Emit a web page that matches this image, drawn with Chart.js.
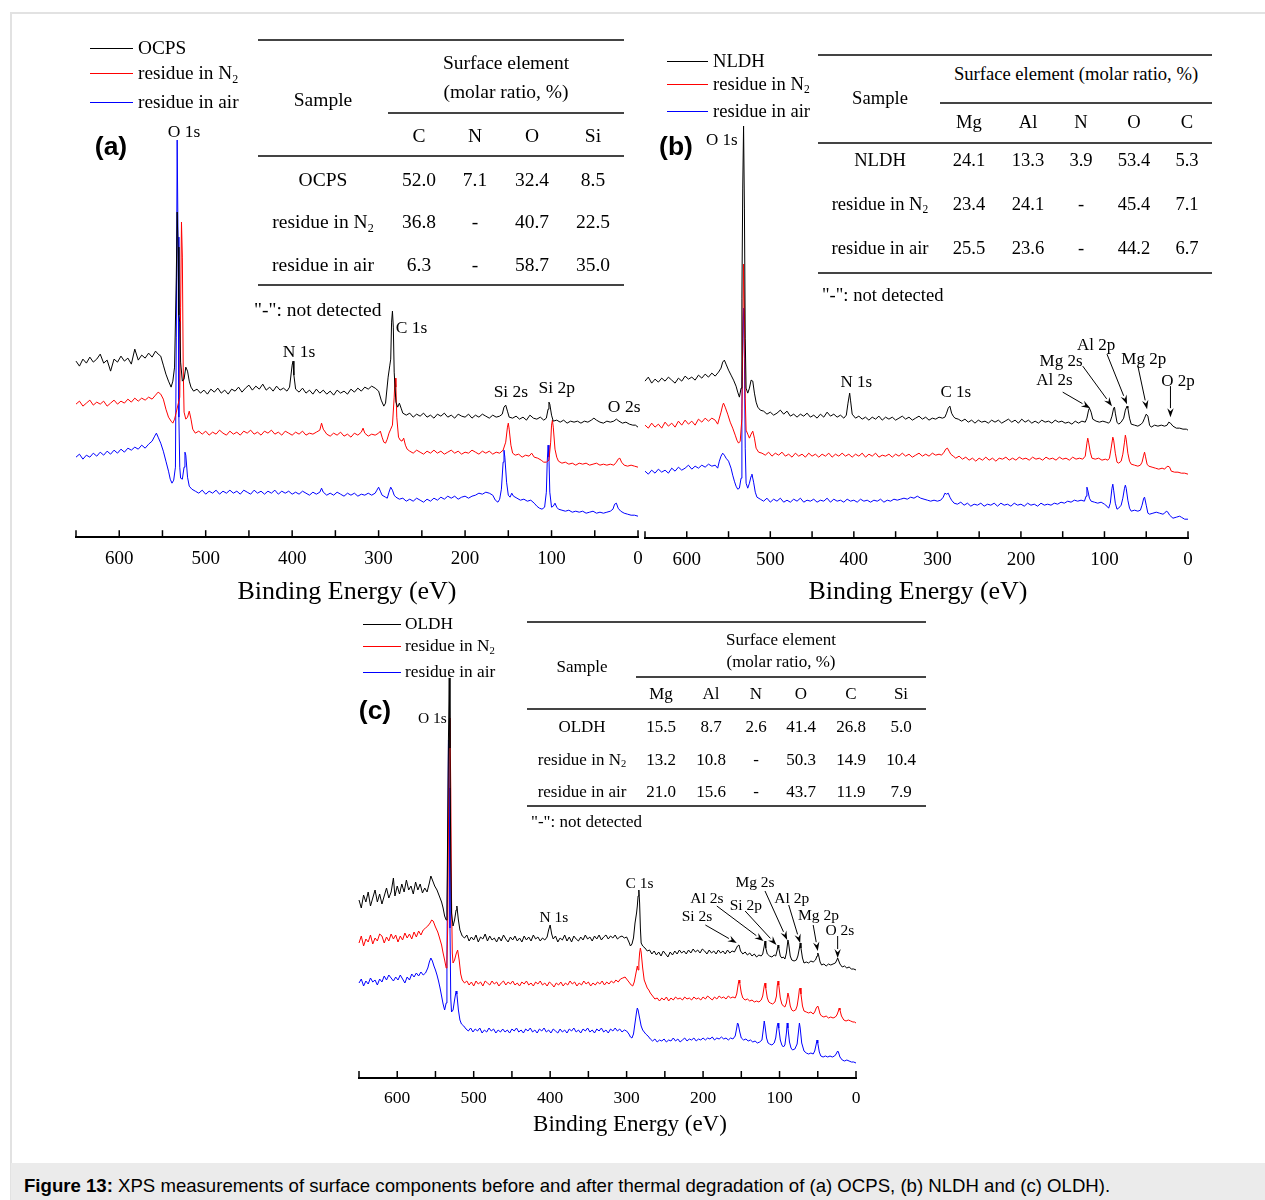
<!DOCTYPE html>
<html><head><meta charset="utf-8">
<script src="https://cdn.jsdelivr.net/npm/chart.js@4.4.1/dist/chart.umd.min.js"></script>
<style>
html,body{margin:0;padding:0;background:#fff;}
body{width:1265px;height:1200px;position:relative;overflow:hidden;font-family:"Liberation Serif","Times New Roman",serif;color:#000;}
.abs{position:absolute;white-space:nowrap;line-height:1;}
.rule{position:absolute;background:#444;height:1.5px;}
.leg{position:absolute;height:1px;}
canvas{position:absolute;}
sub{font-size:0.62em;vertical-align:-0.28em;line-height:0;}
</style></head><body>
<div style="position:absolute;left:10px;top:12px;width:1265px;height:1200px;border-left:2px solid #e2e2e2;border-top:2px solid #e2e2e2;"></div>
<div style="position:absolute;left:11px;top:1163px;width:1265px;height:40px;background:#ebebeb;"></div>
<div class="abs" style="left:24px;top:1177px;font-family:'Liberation Sans',Arial,sans-serif;font-size:18.6px;"><b>Figure 13:</b> XPS measurements of surface components before and after thermal degradation of (a) OCPS, (b) NLDH and (c) OLDH).</div>
<canvas id="ca" width="602" height="480" style="left:56px;top:100px;"></canvas>
<canvas id="cb" width="583" height="471" style="left:625px;top:110px;"></canvas>
<canvas id="cc" width="537" height="469" style="left:339px;top:650px;"></canvas>
<script>
// ---------- tick / axis values ----------
const eMin = 0, eMax = 650, eStep = 50;
const seriesNames = ['residue in N<sub>2</sub>', 'residue in air'];
const sampleA = 'OCPS', sampleB = 'NLDH', sampleC = 'OLDH';
const axisTitle = 'Binding Energy (eV)';

// ---------- panel (a) spectra: [binding energy eV, intensity a.u.] ----------
const aOCPS = [[650,176],[646,171],[642,178],[638,174],[634,180],[630,175],[626,178],[622,183],[618,174],[614,177],[610,166],[606,178],[602,175],[598,181],[594,176],[590,179],[586,173],[582,188],[578,177],[574,182],[570,179],[566,184],[562,180],[558,186],[555,183],[552,181],[549,172],[546,163],[543,156],[540,150],[538,156],[536,170],[534,260],[533,325],[532,290],[531,222],[530,215],[529,175],[527,156],[525,158],[523,170],[521,166],[519,156],[517,150],[514,146],[510,148],[506,144],[502,147],[498,143],[494,148],[490,145],[486,149],[482,144],[478,147],[474,143],[470,148],[466,146],[462,150],[458,145],[454,149],[450,152],[446,147],[442,151],[438,148],[434,153],[430,147],[426,150],[422,146],[418,151],[414,147],[410,149],[406,146],[403,150],[400,172],[399,176],[398,162],[396,148],[392,145],[388,149],[384,144],[380,147],[376,143],[372,148],[368,144],[364,147],[360,143],[356,146],[352,142],[348,147],[344,144],[340,146],[336,143],[332,148],[328,145],[324,149],[320,146],[316,150],[312,148],[308,151],[304,149],[300,146],[297,137],[294,131],[292,134],[289,160],[287,172],[286,178],[285,215],[284,226],[283,210],[282,165],[280,135],[278,130],[276,134],[274,129],[272,124],[268,122],[264,124],[260,120],[256,123],[252,121],[248,124],[244,120],[240,122],[236,119],[232,123],[228,121],[224,124],[220,120],[216,122],[212,119],[208,123],[204,121],[200,120],[196,123],[192,119],[188,122],[184,120],[180,123],[176,121],[172,119],[168,122],[164,120],[160,121],[157,123],[155,130],[153,132],[151,126],[149,120],[145,119],[141,121],[137,118],[133,120],[129,117],[125,122],[121,119],[117,118],[113,120],[109,117],[106,119],[104,128],[103,135],[102,133],[100,122],[98,116],[94,117],[90,115],[86,117],[82,114],[78,116],[74,115],[70,116],[66,114],[62,116],[58,115],[54,117],[51,119],[48,117],[44,115],[40,114],[36,116],[32,115],[28,116],[25,118],[22,116],[18,114],[14,115],[10,113],[6,112],[3,112],[0,110]];
const aN2 = [[650,133],[646,136],[642,131],[638,134],[634,137],[630,132],[626,135],[622,133],[618,136],[614,131],[610,134],[606,137],[602,133],[598,136],[594,134],[590,138],[586,135],[582,139],[578,136],[574,139],[570,137],[566,140],[562,138],[558,142],[555,145],[552,143],[549,138],[546,128],[543,120],[540,116],[538,114],[536,118],[534,125],[530,140],[529,230],[528,315],[527,280],[526,170],[525,125],[523,118],[521,120],[519,126],[517,118],[515,108],[512,104],[508,106],[504,103],[500,106],[496,102],[492,105],[488,103],[484,107],[480,104],[476,102],[472,106],[468,103],[464,105],[460,102],[456,106],[452,104],[448,107],[444,103],[440,105],[436,102],[432,106],[428,104],[424,107],[420,103],[416,105],[412,102],[408,106],[404,104],[400,102],[396,105],[392,103],[388,106],[384,102],[380,104],[376,103],[372,105],[368,107],[366,114],[364,108],[360,103],[356,101],[352,104],[348,102],[344,105],[340,101],[336,103],[332,100],[328,104],[324,102],[320,105],[318,109],[316,104],[312,101],[308,103],[304,102],[300,104],[298,106],[296,100],[294,95],[292,94],[290,98],[288,104],[286,108],[284,112],[282,140],[281,159],[280,150],[279,120],[277,100],[275,97],[273,96],[271,99],[269,92],[267,88],[264,86],[260,84],[256,87],[252,85],[248,83],[244,86],[240,84],[236,87],[232,84],[228,86],[224,83],[220,85],[216,87],[212,84],[208,86],[204,83],[200,85],[196,84],[192,87],[188,85],[184,83],[180,86],[176,84],[172,86],[168,83],[164,85],[160,84],[156,87],[153,95],[151,110],[150,114],[149,108],[147,92],[145,84],[142,82],[138,83],[134,80],[130,82],[126,81],[123,84],[120,80],[116,79],[112,77],[109,75],[106,75],[103,77],[101,95],[100,112],[99,117],[98,110],[96,88],[94,80],[92,76],[88,74],[84,75],[80,73],[76,74],[72,72],[68,74],[64,73],[60,74],[56,72],[52,73],[48,74],[44,72],[40,73],[36,72],[32,73],[28,72],[25,75],[23,78],[21,79],[19,75],[16,72],[12,71],[8,72],[4,71],[0,70]];
const aAir = [[650,80],[646,83],[642,78],[638,82],[634,80],[630,84],[626,81],[622,85],[618,82],[614,86],[610,83],[606,87],[602,84],[598,88],[594,85],[590,89],[586,87],[582,90],[578,88],[574,92],[570,89],[566,93],[562,96],[559,101],[557,104],[555,100],[552,94],[549,86],[546,76],[543,66],[541,58],[539,54],[537,57],[535,70],[534,200],[533,397],[532,300],[531,120],[530,70],[529,59],[527,58],[525,70],[524,85],[523,82],[521,60],[519,51],[516,48],[512,46],[508,44],[504,47],[500,43],[496,46],[492,44],[488,47],[484,43],[480,46],[476,44],[472,47],[468,44],[464,46],[460,43],[456,47],[452,45],[448,43],[444,47],[440,44],[436,46],[432,43],[428,46],[424,44],[420,47],[416,43],[412,46],[408,44],[404,46],[400,43],[396,45],[392,43],[388,46],[384,44],[380,42],[376,45],[372,43],[368,45],[366,49],[364,45],[360,42],[356,44],[352,42],[348,45],[344,43],[340,41],[336,44],[332,42],[328,44],[324,41],[320,43],[316,42],[312,44],[308,42],[304,44],[302,47],[300,50],[298,46],[296,42],[292,40],[290,39],[288,45],[286,50],[284,47],[282,42],[280,40],[276,38],[272,39],[268,36],[264,38],[260,36],[256,39],[252,37],[248,35],[244,38],[240,36],[236,39],[232,37],[228,40],[224,38],[220,41],[216,39],[212,41],[208,38],[204,40],[200,41],[196,39],[192,41],[188,42],[184,44],[180,43],[176,45],[172,44],[168,42],[165,37],[162,35],[160,38],[158,48],[156,75],[155,87],[154,80],[152,55],[150,42],[148,40],[146,44],[144,41],[140,39],[136,37],[132,38],[128,36],[124,37],[120,34],[117,31],[114,29],[111,28],[108,30],[106,45],[105,75],[104,92],[103,80],[102,45],[100,30],[98,31],[96,34],[94,30],[92,28],[88,27],[84,26],[80,27],[76,25],[72,26],[68,25],[64,26],[60,24],[56,25],[52,26],[48,24],[44,25],[40,24],[36,25],[32,26],[29,28],[27,33],[25,34],[23,29],[20,26],[16,24],[12,23],[8,22],[4,22],[0,21]];

// ---------- panel (b) spectra ----------
const bNLDH = [[650,157],[646,161],[642,155],[638,159],[634,156],[630,160],[626,157],[622,161],[618,158],[614,155],[610,160],[606,157],[602,162],[598,159],[594,161],[590,158],[586,163],[582,160],[578,164],[574,161],[570,165],[566,162],[562,166],[559,170],[557,176],[555,178],[553,174],[550,168],[547,163],[544,158],[541,152],[539,146],[537,141],[535,150],[534,240],[533,350],[532,412],[531,330],[530,200],[529,150],[527,145],[525,150],[523,158],[521,157],[519,145],[517,136],[515,131],[512,128],[508,127],[504,124],[500,126],[496,123],[492,125],[488,128],[484,124],[480,127],[476,122],[472,124],[468,121],[464,124],[460,122],[456,125],[452,121],[448,123],[444,120],[440,124],[436,121],[432,126],[428,122],[424,124],[420,121],[416,123],[412,120],[409,123],[407,135],[405,145],[404,138],[402,124],[398,120],[394,122],[390,119],[386,121],[382,118],[378,121],[374,119],[370,122],[366,118],[362,121],[358,119],[354,121],[350,118],[346,120],[342,122],[338,119],[334,121],[330,118],[326,120],[322,122],[318,119],[314,121],[310,118],[306,120],[302,119],[298,121],[294,120],[291,121],[289,125],[287,130],[285,132],[283,125],[281,122],[279,120],[275,119],[271,117],[267,119],[263,116],[259,118],[255,115],[251,118],[247,116],[243,117],[239,115],[235,118],[231,116],[227,118],[223,115],[219,117],[215,119],[211,116],[207,118],[203,115],[199,119],[195,116],[191,118],[187,115],[183,117],[179,115],[175,118],[171,116],[167,117],[163,115],[159,118],[155,116],[151,117],[147,115],[143,116],[139,114],[135,117],[131,115],[127,117],[123,116],[121,120],[119,128],[118,130],[116,126],[114,119],[110,117],[106,116],[102,117],[98,116],[95,115],[93,117],[91,122],[89,130],[88,131],[87,125],[85,116],[83,114],[80,116],[77,120],[75,128],[73,132],[72,130],[70,120],[68,114],[64,113],[60,112],[56,114],[54,116],[52,120],[50,124],[48,122],[46,113],[44,111],[40,113],[36,112],[32,113],[28,112],[25,113],[23,116],[21,115],[18,112],[14,110],[10,110],[6,109],[2,109],[0,108]];
const bN2 = [[650,113],[646,110],[642,115],[638,111],[634,114],[630,110],[626,116],[622,112],[618,115],[614,111],[610,117],[606,113],[602,118],[598,114],[594,117],[590,113],[586,119],[582,116],[578,120],[574,117],[570,120],[566,118],[563,114],[561,120],[559,126],[557,133],[556,135],[554,131],[551,124],[548,116],[545,110],[542,103],[540,98],[538,95],[536,97],[534,120],[533,200],[532,274],[531,230],[530,140],[529,108],[527,104],[525,100],[523,104],[521,107],[519,100],[517,90],[514,86],[510,85],[506,83],[502,86],[498,82],[494,85],[490,83],[486,86],[482,82],[478,84],[474,81],[470,85],[466,82],[462,84],[458,81],[454,85],[450,82],[446,84],[442,81],[438,84],[434,82],[430,85],[426,81],[422,84],[418,82],[414,85],[410,82],[406,84],[402,81],[398,84],[394,82],[390,85],[386,81],[382,84],[378,82],[374,85],[370,81],[366,83],[362,82],[358,84],[354,81],[350,84],[346,82],[342,85],[338,82],[334,84],[330,81],[326,83],[322,85],[318,82],[314,84],[310,82],[306,85],[302,83],[298,84],[295,83],[292,86],[290,89],[288,90],[286,87],[284,84],[281,82],[278,80],[274,82],[270,79],[266,81],[262,78],[258,80],[254,77],[250,80],[246,78],[242,81],[238,78],[234,80],[230,77],[226,80],[222,79],[218,81],[214,78],[210,80],[206,78],[202,81],[198,79],[194,80],[190,78],[186,81],[182,79],[178,80],[174,78],[170,81],[166,79],[162,80],[158,78],[154,81],[150,79],[146,80],[142,78],[138,81],[134,79],[130,80],[126,79],[123,82],[121,95],[120,100],[119,96],[117,86],[115,80],[111,79],[107,80],[103,78],[99,79],[96,78],[94,80],[92,90],[90,101],[89,98],[87,85],[85,76],[83,75],[80,77],[78,84],[76,96],[75,103],[74,99],[72,85],[70,77],[68,74],[64,73],[60,72],[57,73],[55,76],[53,83],[52,86],[51,82],[49,74],[47,72],[43,71],[39,70],[35,69],[31,70],[28,69],[26,71],[24,72],[22,71],[20,67],[16,66],[12,66],[8,65],[4,65],[0,64]];
const bAir = [[650,67],[646,64],[642,68],[638,65],[634,69],[630,66],[626,68],[622,65],[618,70],[614,67],[610,71],[606,68],[602,70],[598,73],[594,69],[590,72],[586,70],[582,73],[578,71],[574,74],[570,72],[566,73],[563,70],[561,77],[559,82],[557,85],[555,83],[553,80],[550,77],[547,70],[545,63],[543,57],[541,52],[539,49],[537,50],[535,60],[534,130],[533,200],[532,230],[531,180],[530,90],[529,55],[527,50],[525,55],[523,62],[522,64],[520,56],[518,46],[516,41],[512,39],[508,37],[504,40],[500,36],[496,39],[492,37],[488,40],[484,36],[480,38],[476,36],[472,39],[468,37],[464,40],[460,36],[456,38],[452,37],[448,39],[444,36],[440,38],[436,37],[432,40],[428,36],[424,39],[420,37],[416,38],[412,36],[408,39],[404,37],[400,38],[396,36],[392,39],[388,37],[384,38],[380,36],[376,38],[372,37],[368,39],[364,36],[360,38],[356,37],[352,39],[348,38],[344,39],[340,40],[336,39],[332,41],[328,40],[324,42],[320,40],[316,39],[312,38],[308,37],[304,38],[300,37],[296,38],[293,41],[291,45],[289,44],[287,45],[285,41],[283,38],[280,35],[276,34],[272,36],[268,33],[264,35],[260,32],[256,34],[252,33],[248,35],[244,32],[240,34],[236,33],[232,35],[228,32],[224,35],[220,33],[216,34],[212,32],[208,35],[204,33],[200,34],[196,32],[192,35],[188,33],[184,34],[180,32],[176,35],[172,33],[168,34],[164,33],[160,35],[156,34],[152,36],[148,35],[144,37],[140,36],[136,38],[132,37],[128,38],[124,37],[122,42],[121,51],[120,48],[118,40],[116,37],[112,36],[108,35],[104,36],[100,34],[97,32],[95,30],[93,35],[91,50],[90,54],[89,48],[87,35],[85,29],[83,30],[80,33],[78,40],[76,50],[75,53],[74,50],[72,38],[70,30],[68,27],[64,28],[60,27],[57,28],[55,33],[53,40],[52,41],[50,33],[48,25],[46,24],[42,25],[38,26],[34,25],[30,24],[28,25],[26,27],[24,26],[22,23],[18,20],[14,21],[10,22],[8,21],[4,19],[0,19]];

// ---------- panel (c) spectra ----------
const cOLDH = [[650,178],[647,170],[644,183],[641,176],[638,186],[635,172],[632,180],[629,188],[626,176],[623,184],[620,174],[617,182],[614,190],[611,180],[608,186],[605,200],[603,182],[600,192],[597,184],[594,194],[591,186],[588,198],[585,188],[582,192],[579,184],[576,196],[573,188],[570,194],[567,185],[564,190],[561,186],[558,195],[556,202],[554,198],[551,192],[548,188],[545,182],[542,176],[540,170],[538,162],[536,158],[535,170],[534,250],[533,340],[532,400],[531,330],[530,220],[529,165],[527,152],[525,158],[523,168],[522,172],[520,158],[518,148],[515,142],[512,140],[509,143],[506,137],[503,141],[500,138],[497,143],[494,136],[491,141],[488,139],[485,144],[482,137],[479,142],[476,138],[473,140],[470,136],[467,141],[464,137],[461,143],[458,139],[455,136],[452,141],[449,138],[446,142],[443,137],[440,140],[437,136],[434,142],[431,138],[428,141],[425,137],[422,143],[419,139],[416,141],[413,137],[410,140],[407,138],[404,141],[402,148],[400,153],[398,144],[396,139],[393,142],[390,136],[387,140],[384,138],[381,143],[378,137],[375,141],[372,136],[369,142],[366,139],[363,137],[360,141],[357,138],[354,143],[351,139],[348,141],[345,137],[342,142],[339,139],[336,143],[333,138],[330,141],[327,143],[324,139],[321,142],[318,140],[315,143],[312,139],[309,141],[306,142],[303,140],[300,141],[297,136],[295,132],[293,134],[291,140],[289,155],[287,165],[286,172],[285,182],[284,188],[283,175],[282,150],[281,135],[279,132],[276,130],[273,127],[270,128],[267,124],[264,127],[261,123],[258,126],[255,122],[252,127],[249,124],[246,121],[243,126],[240,123],[237,127],[234,124],[231,128],[228,125],[225,127],[222,124],[219,128],[216,125],[213,129],[210,126],[207,128],[204,125],[201,129],[198,127],[195,124],[192,128],[189,125],[186,127],[183,124],[180,128],[177,125],[174,127],[171,124],[168,128],[165,125],[162,127],[159,126],[157,129],[155,132],[153,133],[151,127],[148,124],[145,126],[142,123],[139,125],[136,122],[133,124],[130,121],[127,123],[124,122],[122,124],[120,132],[119,137],[118,130],[116,124],[113,122],[110,121],[107,123],[105,122],[103,128],[102,133],[101,130],[99,122],[97,120],[95,121],[93,119],[91,125],[89,138],[88,134],[86,122],[84,118],[81,117],[78,118],[76,122],[74,130],[73,135],[72,130],[70,120],[68,115],[65,116],[62,115],[59,117],[56,116],[53,118],[51,122],[50,125],[49,123],[47,116],[45,113],[42,114],[39,112],[36,114],[33,113],[30,114],[27,115],[25,118],[24,120],[23,118],[21,114],[18,111],[15,112],[12,110],[9,111],[6,109],[3,109],[0,108]];
const cN2 = [[650,135],[647,142],[644,132],[641,139],[638,136],[635,143],[632,134],[629,140],[626,137],[623,144],[620,142],[617,135],[614,141],[611,137],[608,144],[605,139],[602,143],[599,136],[596,142],[593,138],[590,145],[587,140],[584,144],[581,139],[578,146],[575,141],[572,147],[569,143],[566,148],[563,150],[560,152],[557,155],[555,158],[553,157],[550,151],[547,146],[545,141],[542,133],[540,125],[538,118],[536,110],[535,115],[534,150],[533,250],[532,330],[531,360],[530,290],[529,180],[528,125],[527,115],[525,118],[523,124],[521,128],[519,118],[517,104],[515,98],[512,95],[509,97],[506,93],[503,96],[500,92],[497,97],[494,94],[491,96],[488,92],[485,97],[482,95],[479,93],[476,97],[473,94],[470,96],[467,92],[464,95],[461,97],[458,93],[455,96],[452,94],[449,97],[446,93],[443,95],[440,92],[437,96],[434,94],[431,97],[428,93],[425,95],[422,92],[419,96],[416,94],[413,97],[410,93],[407,95],[404,92],[401,96],[398,94],[395,91],[392,95],[389,93],[386,96],[383,92],[380,95],[377,93],[374,97],[371,94],[368,96],[365,92],[362,95],[359,93],[356,97],[353,94],[350,96],[347,92],[344,95],[341,93],[338,96],[335,94],[332,97],[329,93],[326,96],[323,94],[320,97],[317,95],[314,98],[311,96],[308,99],[305,100],[302,101],[300,99],[297,96],[294,93],[292,92],[290,96],[288,104],[286,112],[285,108],[284,115],[283,125],[282,130],[281,126],[279,110],[277,98],[275,94],[273,90],[271,88],[269,85],[266,82],[263,79],[260,80],[257,77],[254,80],[251,78],[248,81],[245,77],[242,80],[239,78],[236,81],[233,79],[230,80],[227,78],[224,81],[221,79],[218,80],[215,78],[212,81],[209,79],[206,80],[203,78],[200,81],[197,79],[194,82],[191,80],[188,78],[185,81],[182,79],[179,82],[176,80],[173,81],[170,79],[167,82],[164,80],[161,81],[158,80],[156,84],[154,94],[153,98],[152,95],[150,85],[148,80],[145,78],[142,79],[139,77],[136,78],[133,76],[130,77],[127,76],[124,78],[122,82],[120,92],[119,95],[118,90],[116,80],[114,76],[112,75],[109,74],[106,76],[104,82],[103,92],[102,97],[101,93],[99,80],[97,74],[95,72],[93,71],[91,75],[89,85],[88,82],[86,72],[84,68],[82,67],[79,68],[77,72],[75,82],[74,89],[73,90],[72,84],[70,72],[68,67],[65,66],[62,65],[59,66],[56,64],[54,66],[52,70],[50,72],[49,70],[47,64],[45,62],[42,61],[39,62],[36,60],[33,61],[30,60],[27,61],[25,63],[23,67],[22,70],[21,68],[19,62],[16,58],[13,57],[10,58],[7,57],[4,56],[2,56],[0,55]];
const cAir = [[650,95],[647,99],[644,92],[641,97],[638,94],[635,100],[632,96],[629,98],[626,93],[623,99],[620,96],[617,102],[614,98],[611,103],[608,100],[605,97],[602,101],[599,98],[596,103],[593,99],[590,95],[587,101],[584,98],[581,104],[578,101],[575,105],[572,102],[569,106],[566,103],[563,105],[560,110],[558,116],[556,120],[554,117],[552,112],[550,108],[548,103],[546,97],[544,90],[542,82],[540,74],[538,68],[536,75],[535,120],[534,230],[533,338],[532,290],[531,150],[530,80],[529,66],[527,68],[525,78],[523,87],[522,84],[520,68],[518,58],[516,54],[513,52],[510,49],[507,47],[504,50],[501,46],[498,49],[495,47],[492,50],[489,45],[486,48],[483,46],[480,50],[477,47],[474,49],[471,45],[468,48],[465,46],[462,49],[459,46],[456,48],[453,45],[450,49],[447,47],[444,50],[441,46],[438,48],[435,45],[432,49],[429,47],[426,50],[423,46],[420,48],[417,45],[414,49],[411,47],[408,50],[405,46],[402,48],[399,45],[396,49],[393,47],[390,45],[387,49],[384,46],[381,48],[378,45],[375,49],[372,47],[369,50],[366,46],[363,48],[360,45],[357,49],[354,47],[351,50],[348,46],[345,48],[342,45],[339,49],[336,47],[333,50],[330,46],[327,48],[324,45],[321,49],[318,47],[315,50],[312,47],[309,49],[306,46],[303,48],[300,47],[297,44],[295,41],[293,40],[291,44],[289,55],[287,66],[286,70],[285,68],[283,60],[281,52],[279,48],[277,46],[275,44],[272,42],[269,39],[266,37],[263,39],[260,36],[257,38],[254,37],[251,39],[248,36],[245,38],[242,37],[239,40],[236,37],[233,39],[230,36],[227,38],[224,40],[221,37],[218,39],[215,38],[212,40],[209,37],[206,39],[203,38],[200,40],[197,38],[194,40],[191,39],[188,41],[185,38],[182,40],[179,39],[176,41],[173,39],[170,40],[167,38],[164,40],[161,39],[158,42],[156,50],[155,55],[154,54],[152,46],[150,40],[147,38],[144,39],[141,37],[138,38],[135,36],[132,37],[129,35],[126,36],[123,38],[121,50],[120,57],[119,52],[117,40],[115,35],[113,34],[110,33],[107,35],[105,40],[103,52],[102,55],[101,50],[99,38],[97,33],[95,31],[93,33],[91,45],[90,55],[89,50],[87,36],[85,30],[83,28],[80,29],[77,34],[75,48],[74,55],[73,50],[71,35],[68,27],[65,25],[62,24],[59,25],[56,24],[54,27],[52,34],[51,38],[50,35],[48,26],[46,22],[43,21],[40,22],[37,21],[34,22],[31,21],[28,22],[26,24],[24,27],[23,26],[21,21],[18,18],[15,17],[12,18],[9,17],[6,16],[3,16],[0,15]];

// ---------- tables ----------
const tAcols = ['C','N','O','Si'];
const tArows = ['OCPS','residue in N<sub>2</sub>','residue in air'];
const tAvals = [['52.0','7.1','32.4','8.5'],['36.8','-','40.7','22.5'],['6.3','-','58.7','35.0']];
const tBcols = ['Mg','Al','N','O','C'];
const tBrows = ['NLDH','residue in N<sub>2</sub>','residue in air'];
const tBvals = [['24.1','13.3','3.9','53.4','5.3'],['23.4','24.1','-','45.4','7.1'],['25.5','23.6','-','44.2','6.7']];
const tCcols = ['Mg','Al','N','O','C','Si'];
const tCrows = ['OLDH','residue in N<sub>2</sub>','residue in air'];
const tCvals = [['15.5','8.7','2.6','41.4','26.8','5.0'],['13.2','10.8','-','50.3','14.9','10.4'],['21.0','15.6','-','43.7','11.9','7.9']];

// ---------- peak annotations [text, eV, intensity] and arrows [eV1,i1,eV2,i2] ----------
const aPeaks = [['O 1s',525,405],['N 1s',392,185],['C 1s',262,209],['Si 2s',147,145],['Si 2p',94,149],['O 2s',16,130]];
const bPeaks = [['O 1s',558,399],['N 1s',397,157],['C 1s',278,147],['Al 2s',160,159],['Mg 2s',152,178],['Al 2p',110,194],['Mg 2p',53,180],['O 2p',12,158]];
const bArrows = [[150,146,117,130],[126,172,91,132],[97,184,73,134],[60,172,49,129],[21,152,21,121]];
const cPeaks = [['O 1s',554,360],['N 1s',395,161],['C 1s',283,195],['Si 2s',208,162],['Al 2s',195,180],['Si 2p',144,173],['Mg 2s',132,196],['Al 2p',84,180],['Mg 2p',49,163],['O 2s',21,148]];
const cArrows = [[197,153,156,135],[182,172,121,137],[145,167,104,133],[119,187,90,138],[88,173,73,135],[56,153,50,127],[24,142,24,120]];

// ---------- helpers ----------
function put(html, x, y, size, align, extra){
  const d = document.createElement('div');
  d.className = 'abs';
  d.innerHTML = html;
  d.style.left = x + 'px'; d.style.top = y + 'px';
  d.style.fontSize = size + 'px';
  d.style.transform = align === 'left' ? 'translate(0,-50%)' : 'translate(-50%,-50%)';
  if (extra) Object.assign(d.style, extra);
  document.body.appendChild(d);
  return d;
}
function rule(x1, x2, y){
  const d = document.createElement('div');
  d.className = 'rule';
  d.style.left = x1 + 'px'; d.style.top = (y - 0.75) + 'px'; d.style.width = (x2 - x1) + 'px';
  document.body.appendChild(d);
}
function legend(x1, x2, xt, ys, size, names){
  const cols = ['#000', '#ff0000', '#0000ff'];
  names.forEach((n, i) => {
    const l = document.createElement('div');
    l.className = 'leg';
    l.style.left = x1 + 'px'; l.style.top = ys[i] + 'px'; l.style.width = (x2 - x1) + 'px';
    l.style.background = cols[i];
    document.body.appendChild(l);
    put(n, xt, ys[i], size, 'left');
  });
}
function table(cfg){
  rule(cfg.x1, cfg.x2, cfg.r[0]); rule(cfg.xm, cfg.x2, cfg.r[1]); rule(cfg.x1, cfg.x2, cfg.r[2]); rule(cfg.x1, cfg.x2, cfg.r[3]);
  put('Sample', cfg.sx, cfg.sy, cfg.size);
  cfg.head.forEach(h => put(h[0], h[1], h[2], cfg.size));
  cfg.cols.forEach((c, j) => put(c, cfg.cx[j], cfg.hy, cfg.size));
  cfg.rows.forEach((r, i) => {
    put(r, cfg.sx, cfg.ry[i], cfg.size);
    cfg.vals[i].forEach((v, j) => put(v, cfg.cx[j], cfg.ry[i], cfg.size));
  });
  put('"-": not detected', cfg.nx, cfg.ny, cfg.size, 'left');
}

const innerTicks = {
  id: 'innerTicks',
  afterDraw(chart, args, opts){
    const sx = chart.scales.x, sy = chart.scales.y, ctx = chart.ctx;
    const y0 = sx.top;
    ctx.save();
    ctx.strokeStyle = '#000'; ctx.lineWidth = 1.5;
    sx.ticks.forEach(t => {
      const x = sx.getPixelForValue(t.value);
      ctx.beginPath(); ctx.moveTo(x, y0); ctx.lineTo(x, y0 - opts.len); ctx.stroke();
    });
    ctx.lineWidth = 1; ctx.fillStyle = '#000';
    (opts.arrows || []).forEach(a => {
      const x1 = sx.getPixelForValue(a[0]), y1 = sy.getPixelForValue(a[1]);
      const x2 = sx.getPixelForValue(a[2]), y2 = sy.getPixelForValue(a[3]);
      const ang = Math.atan2(y2 - y1, x2 - x1), L = 9, W = 3.2;
      const bx = x2 - L * Math.cos(ang), by = y2 - L * Math.sin(ang);
      ctx.beginPath(); ctx.moveTo(x1, y1); ctx.lineTo(bx, by); ctx.stroke();
      ctx.beginPath(); ctx.moveTo(x2, y2);
      ctx.lineTo(bx + W * Math.sin(ang), by - W * Math.cos(ang));
      ctx.lineTo(bx + 0.35 * L * Math.cos(ang), by + 0.35 * L * Math.sin(ang));
      ctx.lineTo(bx - W * Math.sin(ang), by + W * Math.cos(ang));
      ctx.closePath(); ctx.fill();
    });
    ctx.restore();
  }
};

function panel(id, left, top, series, ymax, tickSize, tickPad, arrows, peaks, peakSize){
  const cols = ['#000000', '#ff0000', '#0000ff'];
  const chart = new Chart(document.getElementById(id), {
    type: 'line',
    data: { datasets: series.map((s, i) => ({ data: s, borderColor: cols[i], borderWidth: 1, pointRadius: 0, fill: false, tension: 0, clip: false })) },
    options: {
      responsive: false, animation: false, devicePixelRatio: 1,
      layout: { padding: { left: 20, right: 20, top: 0, bottom: 0 } },
      plugins: { legend: { display: false }, tooltip: { enabled: false }, innerTicks: { len: 7, arrows: arrows } },
      scales: {
        x: {
          type: 'linear', reverse: true, min: eMin, max: eMax,
          grid: { display: false, drawTicks: false },
          border: { display: true, color: '#000', width: 2 },
          ticks: {
            stepSize: eStep, autoSkip: false, maxRotation: 0, padding: tickPad, color: '#000',
            font: { family: 'Liberation Serif', size: tickSize },
            callback: v => (v % 100 === 0 && v <= 600) ? String(v) : ''
          }
        },
        y: { display: false, min: 0, max: ymax }
      }
    },
    plugins: [innerTicks]
  });
  const sx = chart.scales.x, sy = chart.scales.y;
  peaks.forEach(p => put(p[0], left + sx.getPixelForValue(p[1]), top + sy.getPixelForValue(p[2]), peakSize));
  return chart;
}

// ---------- build ----------
panel('ca', 56, 100, [aOCPS, aN2, aAir], 437, 19, 10, [], aPeaks, 17.5);
panel('cb', 625, 110, [bNLDH, bN2, bAir], 428, 19, 10, bArrows, bPeaks, 17);
panel('cc', 339, 650, [cOLDH, cN2, cAir], 428, 17.5, 10, cArrows, cPeaks, 15.5);

put(axisTitle, 347, 591, 26);
put(axisTitle, 918, 591, 26);
put(axisTitle, 630, 1123, 23);

const sans = { fontFamily: "'Liberation Sans', Arial, sans-serif", fontWeight: 'bold' };
put('(a)', 111, 146, 26.5, 'c', sans);
put('(b)', 676, 146, 26.5, 'c', sans);
put('(c)', 375, 710, 26.5, 'c', sans);

legend(90, 133, 138, [48, 73, 102], 19.3, [sampleA].concat(seriesNames));
legend(667, 708, 713, [61, 84, 111], 18.6, [sampleB].concat(seriesNames));
legend(363, 401, 405, [624, 646, 672], 17.3, [sampleC].concat(seriesNames));

table({x1:258, x2:624, xm:388, r:[40,113,156,285], sx:323, sy:100, size:19.5,
  head:[['Surface element',506,63],['(molar ratio, %)',506,92]],
  cols:tAcols, cx:[419,475,532,593], hy:136, rows:tArows, ry:[180,222,265], vals:tAvals, nx:254, ny:310});
table({x1:818, x2:1212, xm:940, r:[55,103,143,273], sx:880, sy:98, size:18.6,
  head:[['Surface element (molar ratio, %)',1076,74]],
  cols:tBcols, cx:[969,1028,1081,1134,1187], hy:122, rows:tBrows, ry:[160,204,248], vals:tBvals, nx:822, ny:295});
table({x1:527, x2:926, xm:636, r:[622,677,709,806], sx:582, sy:666, size:17,
  head:[['Surface element',781,639],['(molar ratio, %)',781,661]],
  cols:tCcols, cx:[661,711,756,801,851,901], hy:693, rows:tCrows, ry:[726,759,791], vals:tCvals, nx:531, ny:821});
</script>
</body></html>
